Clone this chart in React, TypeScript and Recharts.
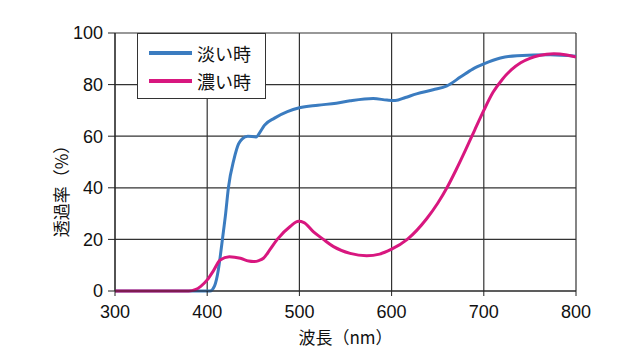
import React from "react";
import { LineChart, Line, XAxis, YAxis, CartesianGrid, Legend, Label } from "recharts";

// wavelength (nm) / transmittance (%)
const lightNm = [300, 350, 395, 403, 408, 412, 414, 416.5, 420, 423, 429, 434, 438, 444, 453, 458, 462, 473, 487, 500, 520, 540, 555, 580, 595, 604, 615, 627, 645, 660, 675, 688, 700, 718, 736, 772, 800];
const lightT = [0, 0, 0, 0, 2, 8, 13, 20, 30, 40, 51, 57, 59, 60, 59.7, 62, 64.2, 67, 69.5, 71, 72, 72.8, 73.7, 74.6, 74, 73.8, 75, 76.4, 78, 79.5, 83, 86, 88, 90.3, 91.2, 91.6, 91];

const darkNm = [300, 380, 387, 393, 400, 407, 414, 424, 436, 445, 450, 456, 461, 468, 476, 490, 499, 505, 515, 526, 537, 555, 573, 587, 600, 617, 638, 650, 660, 670, 680, 690, 700, 710, 720, 730, 740, 750, 760, 776, 790, 800];
const darkT = [0, 0, 0.5, 1.8, 4.3, 8, 12, 13.3, 12.7, 11.6, 11.4, 11.8, 12.7, 16, 20, 25, 27, 26.5, 23, 20, 17.2, 14.6, 13.7, 14.3, 16.2, 20, 28, 34, 40, 47, 54.5, 62.3, 70, 77, 82, 85.8, 88.5, 90.2, 91.3, 92, 91.5, 90.7];

const xTicks = [300, 400, 500, 600, 700, 800];
const yTicks = [0, 20, 40, 60, 80, 100];

const lightData = lightNm.map((nm, i) => ({ nm, t: lightT[i] }));
const darkData = darkNm.map((nm, i) => ({ nm, t: darkT[i] }));

const NUM_FONT = "'Liberation Sans', Arial, sans-serif";
const JP_FONT = "'Noto Sans CJK JP', sans-serif";

const BLUE = "#3b7cc0";
const PINK = "#d8177f";

function LegendBox(props: any) {
  const items = props.payload || [];
  return (
    <div
      style={{
        border: "1px solid #333",
        background: "#fff",
        width: 129,
        height: 66,
        boxSizing: "border-box",
        padding: "5px 0 0 11px",
      }}
    >
      {items.map((it: any) => (
        <div key={it.value} style={{ display: "flex", alignItems: "center", height: 28 }}>
          <div style={{ width: 43, height: 4, background: it.color, marginRight: 5 }} />
          <span style={{ fontFamily: JP_FONT, fontSize: 18, color: "#111", lineHeight: "28px" }}>{it.value}</span>
        </div>
      ))}
    </div>
  );
}

function YTitle(props: any) {
  const vb = props.viewBox || { x: 0, y: 0, width: 0, height: 0 };
  const x = vb.x + 60;
  const y = vb.y + vb.height / 2 + 25;
  return (
    <text
      x={x}
      y={y}
      transform={`rotate(-90 ${x} ${y})`}
      textAnchor="middle"
      dominantBaseline="central"
      fontFamily={JP_FONT}
      fontSize={17}
      fill="#111"
    >
      透過率（%）
    </text>
  );
}

export default function App() {
  return (
    <div style={{ position: "absolute", left: 0, top: 0, background: "#fff" }}>
      <LineChart width={640} height={356} margin={{ top: 33, right: 64, bottom: 0, left: 0 }}>
        <CartesianGrid stroke="#333" strokeWidth={1.2} />
        <XAxis
          dataKey="nm"
          type="number"
          domain={[300, 800]}
          ticks={xTicks}
          allowDataOverflow
          height={65}
          tickSize={5}
          tickMargin={9}
          stroke="#222"
          tick={{ fill: "#111", fontSize: 18, fontFamily: NUM_FONT }}
        >
          <Label
            value="波長（nm）"
            position="insideBottom"
            offset={12}
            style={{ fontFamily: JP_FONT, fontSize: 17, fill: "#111" }}
          />
        </XAxis>
        <YAxis
          type="number"
          domain={[0, 100]}
          ticks={yTicks}
          width={115}
          tickSize={7}
          tickMargin={5}
          stroke="#222"
          tick={{ fill: "#111", fontSize: 18, fontFamily: NUM_FONT }}
        >
          <Label content={YTitle} />
        </YAxis>
        <Legend
          layout="vertical"
          align="center"
          verticalAlign="middle"
          content={LegendBox}
          wrapperStyle={{ left: 137, top: 33, width: "auto" }}
        />
        <Line
          data={lightData}
          dataKey="t"
          name="淡い時"
          type="monotone"
          stroke={BLUE}
          strokeWidth={3}
          dot={false}
          isAnimationActive={false}
        />
        <Line
          data={darkData}
          dataKey="t"
          name="濃い時"
          type="monotone"
          stroke={PINK}
          strokeWidth={3}
          dot={false}
          isAnimationActive={false}
        />
      </LineChart>
    </div>
  );
}
